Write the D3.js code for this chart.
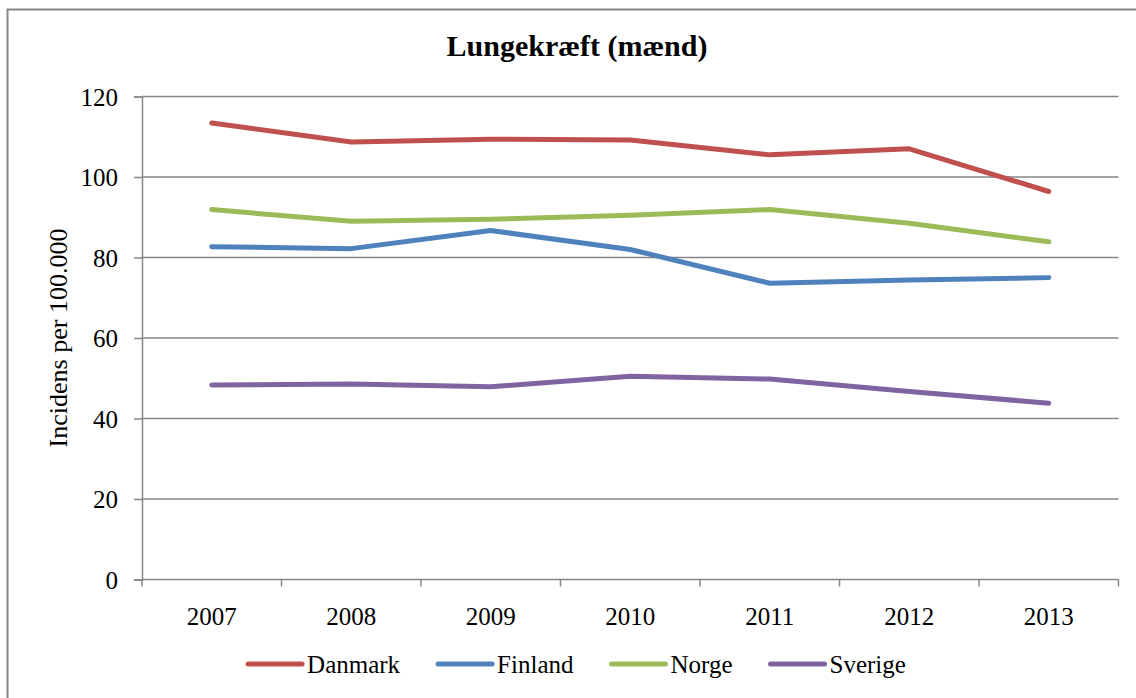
<!DOCTYPE html>
<html>
<head>
<meta charset="utf-8">
<script src="https://cdn.jsdelivr.net/npm/d3@7"></script>
<style>
  body { margin: 0; background: #fff; }
</style>
</head>
<body>
<svg id="chart" width="1136" height="698"></svg>
<script>
"use strict"

// data
const years = ["2007", "2008", "2009", "2010", "2011", "2012", "2013"]
const danmark = [113.4, 108.7, 109.4, 109.2, 105.5, 107.0, 96.4]
const finland = [82.7, 82.2, 86.7, 82.0, 73.6, 74.4, 75.0]
const norge = [91.9, 89.0, 89.5, 90.5, 91.9, 88.5, 83.9]
const sverige = [48.3, 48.6, 47.9, 50.5, 49.8, 46.7, 43.8]
const yTicks = [0, 20, 40, 60, 80, 100, 120]

const series = [
    {name: "Danmark", values: danmark, color: "#C0504D"},
    {name: "Finland", values: finland, color: "#4F81BD"},
    {name: "Norge", values: norge, color: "#9BBB59"},
    {name: "Sverige", values: sverige, color: "#8064A2"}
]

const serif = "'Liberation Serif', 'Times New Roman', Tinos, 'DejaVu Serif', serif"
const svg = d3.select("#chart").attr("font-family", serif)
const gridColor = "#868686"

// outer frame (runs off the right and bottom of the picture)
svg.append("path")
    .attr("d", "M7.5,700 V9.5 H1140")
    .attr("fill", "none")
    .attr("stroke", gridColor)
    .attr("stroke-width", 2)

const margin = {left: 142, right: 1118.5, top: 96.5, bottom: 579.5}

let x = d3.scaleBand().domain(years).range([margin.left, margin.right])
let y = d3.scaleLinear().domain([0, 120]).range([margin.bottom, margin.top])

// horizontal gridlines
svg.append("g")
    .selectAll("line")
    .data(yTicks.filter(d => d > 0))
    .enter().append("line")
    .attr("x1", margin.left)
    .attr("x2", margin.right)
    .attr("y1", d => y(d))
    .attr("y2", d => y(d))
    .attr("stroke", gridColor)
    .attr("stroke-width", 1.5)

// y axis
let yAxis = svg.append("g")
    .attr("transform", "translate(" + margin.left + ",0)")
    .call(d3.axisLeft(y).tickValues(yTicks).tickSize(8).tickPadding(16))
yAxis.attr("font-family", serif).attr("font-size", 25)
yAxis.select(".domain").attr("stroke", gridColor).attr("stroke-width", 1.5)
yAxis.selectAll(".tick line").attr("stroke", gridColor).attr("stroke-width", 1.5)
yAxis.selectAll("text")
    .style("font-family", serif)
    .style("font-size", "25px")
    .attr("fill", "#000")
    .attr("dy", "0.34em")

// x axis, ticks sit between the categories
let xAxis = svg.append("g")
    .attr("transform", "translate(0," + margin.bottom + ")")
xAxis.append("line")
    .attr("x1", margin.left).attr("x2", margin.right)
    .attr("stroke", gridColor).attr("stroke-width", 1.5)
xAxis.selectAll(".xtick")
    .data(years.concat(["end"]))
    .enter().append("line")
    .attr("class", "xtick")
    .attr("x1", (d, i) => i < years.length ? x(d) : margin.right)
    .attr("x2", (d, i) => i < years.length ? x(d) : margin.right)
    .attr("y1", 0).attr("y2", 7)
    .attr("stroke", gridColor).attr("stroke-width", 1.5)
xAxis.selectAll(".xlabel")
    .data(years)
    .enter().append("text")
    .attr("class", "xlabel")
    .attr("x", d => x(d) + x.bandwidth() / 2)
    .attr("y", 45)
    .attr("text-anchor", "middle")
    .style("font-family", serif)
    .style("font-size", "25px")
    .text(d => d)

// lines
let line = d3.line()
    .x((d, i) => x(years[i]) + x.bandwidth() / 2)
    .y(d => y(d))

svg.append("g")
    .selectAll("path")
    .data(series)
    .enter().append("path")
    .attr("d", d => line(d.values))
    .attr("fill", "none")
    .attr("stroke", d => d.color)
    .attr("stroke-width", 5)
    .attr("stroke-linejoin", "round")
    .attr("stroke-linecap", "round")

// title
svg.append("text")
    .attr("x", 577)
    .attr("y", 56)
    .attr("text-anchor", "middle")
    .style("font-family", serif)
    .style("font-size", "30px")
    .style("font-weight", "bold")
    .text("Lungekræft (mænd)")

// y axis title
svg.append("text")
    .attr("transform", "translate(67,338) rotate(-90)")
    .attr("text-anchor", "middle")
    .style("font-family", serif)
    .style("font-size", "26px")
    .text("Incidens per 100.000")

// legend
let legend = svg.append("g").attr("transform", "translate(0,664)")
let items = legend.selectAll("g")
    .data(series)
    .enter().append("g")
items.append("line")
    .attr("x1", 0).attr("x2", 54)
    .attr("stroke", d => d.color)
    .attr("stroke-width", 5)
    .attr("stroke-linecap", "round")
items.append("text")
    .attr("x", 59)
    .attr("y", 9)
    .style("font-family", serif)
    .style("font-size", "25px")
    .text(d => d.name)

let offset = 0
items.each(function(d) {
    let w = 59 + d3.select(this).select("text").node().getComputedTextLength()
    d.legendX = offset
    offset += w + 38
})
let totalW = offset - 38
let startX = 577 - totalW / 2
items.attr("transform", d => "translate(" + (startX + d.legendX) + ",0)")
</script>
</body>
</html>
